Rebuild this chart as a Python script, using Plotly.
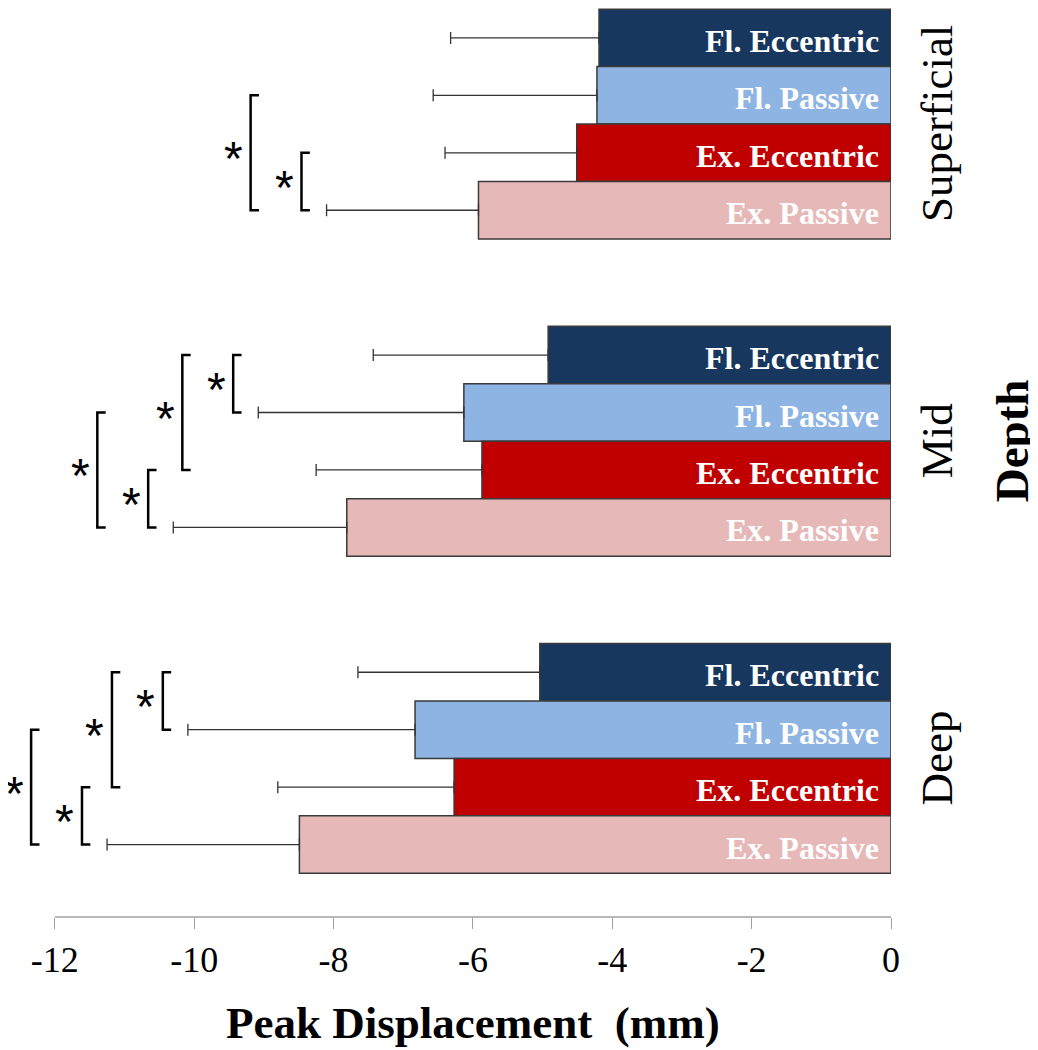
import plotly.graph_objs as go

# dane
depths = ['Superficial', 'Mid', 'Deep']
conditions = ['Fl. Eccentric', 'Fl. Passive', 'Ex. Eccentric', 'Ex. Passive']
colors = ['#17375E', '#8EB4E3', '#C00000', '#E6B9B8']

# mean peak displacement (mm) per depth: Superficial, Mid, Deep
fl_eccentric = [-4.19, -4.92, -5.04]
fl_passive = [-4.22, -6.13, -6.83]
ex_eccentric = [-4.51, -5.87, -6.27]
ex_passive = [-5.92, -7.81, -8.49]

# standard deviations
fl_eccentric_sd = [2.13, 2.51, 2.61]
fl_passive_sd = [2.35, 2.95, 3.26]
ex_eccentric_sd = [1.89, 2.38, 2.53]
ex_passive_sd = [2.18, 2.49, 2.76]

means = [fl_eccentric, fl_passive, ex_eccentric, ex_passive]
sds = [fl_eccentric_sd, fl_passive_sd, ex_eccentric_sd, ex_passive_sd]

# significant differences: (depth, condition a, condition b, bracket level)
significance = [
    (0, 2, 3, 1), (0, 1, 3, 2),
    (1, 0, 1, 1), (1, 0, 2, 2), (1, 2, 3, 1), (1, 1, 3, 2),
    (2, 0, 1, 1), (2, 0, 2, 2), (2, 2, 3, 1), (2, 1, 3, 2),
]

x_ticks = [-12, -10, -8, -6, -4, -2, 0]
x_tick_labels = ['-12', '-10', '-8', '-6', '-4', '-2', '0']

serif = 'Liberation Serif'
gap = 1.52


def pos(d, c):
    return d * (len(conditions) + gap) + c + 0.5


fig = go.Figure()

# slupki z odchyleniami
for c, name in enumerate(conditions):
    fig.add_trace(go.Bar(
        x=means[c],
        y=[pos(d, c) for d in range(len(depths))],
        orientation='h',
        width=1,
        name=name,
        marker=dict(color=colors[c], line=dict(color='#3a3a3a', width=1.5)),
        error_x=dict(type='data', symmetric=False,
                     array=[0] * len(depths), arrayminus=sds[c],
                     color='#333333', thickness=1.3, width=6),
        hoverinfo='x+name',
    ))
    for d in range(len(depths)):
        fig.add_annotation(x=0, y=pos(d, c), text='<b>' + name + '</b>',
                           xanchor='right', xshift=-10, yshift=-3, showarrow=False,
                           font=dict(family=serif, size=32, color='white'))

# nawiasy istotnosci
arm = 0.12
offsets = {1: 0.36, 2: 1.09}
bx, by = [], []
for d, a, b, lvl in significance:
    ends = [means[c][d] - sds[c][d] for c in range(a, b + 1)]
    x0 = min(ends) - offsets[lvl]
    y0, y1 = pos(d, a), pos(d, b)
    bx += [x0 + arm, x0, x0, x0 + arm, None]
    by += [y0, y0, y1, y1, None]
    fig.add_annotation(x=x0, y=(y0 + y1) / 2, text='*', xshift=-17, yshift=-6,
                       showarrow=False,
                       font=dict(family='Liberation Sans', size=48, color='black'))

fig.add_trace(go.Scatter(x=bx, y=by, mode='lines',
                         line=dict(color='black', width=2.5),
                         hoverinfo='skip'))

# opisy glebokosci
for d, name in enumerate(depths):
    fig.add_annotation(x=0, y=(pos(d, 0) + pos(d, 3)) / 2, text=name,
                       textangle=-90, xanchor='center', xshift=46, showarrow=False,
                       font=dict(family=serif, size=45, color='black'))
fig.add_annotation(x=0, y=(pos(1, 0) + pos(1, 3)) / 2, text='<b>Depth</b>',
                   textangle=-90, xanchor='center', xshift=121, showarrow=False,
                   font=dict(family=serif, size=47, color='black'))

fig.add_annotation(x=(x_ticks[0] + x_ticks[-1]) / 2, y=0, xref='x', yref='paper',
                   text='<b>Peak Displacement  (mm)</b>', yanchor='middle', yshift=-106,
                   showarrow=False, font=dict(family=serif, size=45, color='black'))

# os x
fig.add_shape(type='line', xref='x', yref='paper', x0=x_ticks[0], x1=x_ticks[-1],
              y0=0, y1=0, line=dict(color='#a0a0a0', width=1.3))

y_bottom = pos(len(depths) - 1, len(conditions) - 1) + 0.5 + gap / 2

# strona ma 8 px marginesu, wiec wykres jest o tyle mniejszy
fig.update_layout(
    width=1030,
    height=1042,
    margin=dict(l=5, r=147, t=0, b=133),
    barmode='overlay',
    showlegend=False,
    plot_bgcolor='white',
    paper_bgcolor='white',
)

fig.update_xaxes(
    range=[-12.6, 0],
    tickvals=x_ticks,
    ticktext=x_tick_labels,
    ticks='outside',
    ticklen=11,
    tickwidth=1.3,
    tickcolor='#a0a0a0',
    showline=False,
    showgrid=False,
    zeroline=False,
    tickfont=dict(family=serif, size=36, color='black'),
)

fig.update_yaxes(
    range=[y_bottom, -0.02],
    visible=False,
    showgrid=False,
    zeroline=False,
)

fig.write_html('out.html')
